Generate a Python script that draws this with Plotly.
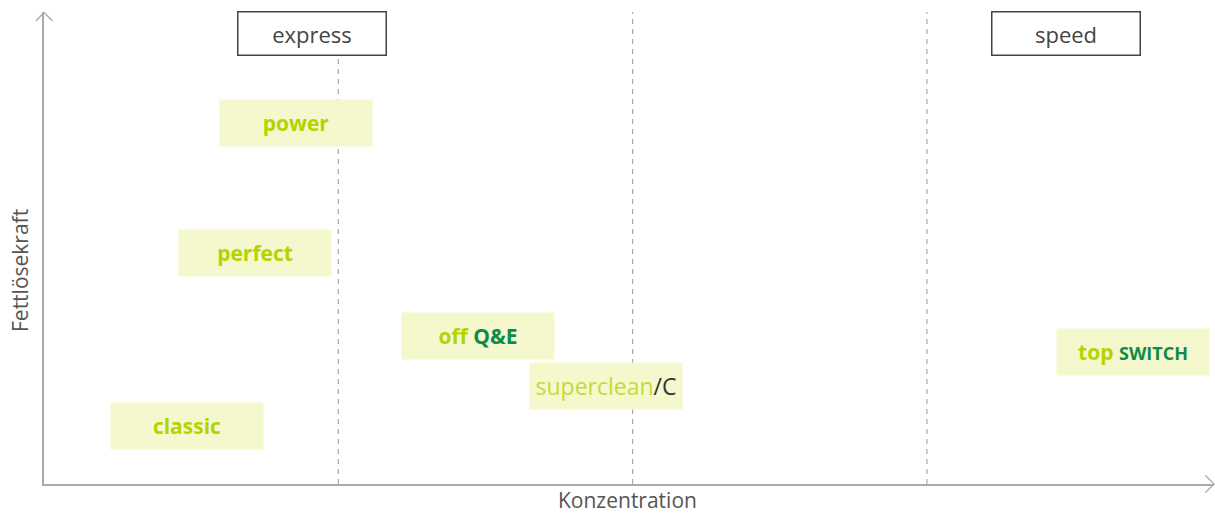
import plotly.graph_objects as go

# ---- data ----
products = ["power", "perfect", "off Q&E", "superclean/C", "top SWITCH", "classic"]
konzentration = [0.856, 0.717, 1.475, 1.911, 3.700, 0.486]
fettloesekraft = [0.764, 0.489, 0.314, 0.208, 0.280, 0.123]
product_labels = [
    "<b><span style='color:#B5D300'>power</span></b>",
    "<b><span style='color:#B5D300'>perfect</span></b>",
    "<b><span style='color:#B5D300'>off</span> <span style='color:#0E8A4A'>Q&amp;E</span></b>",
    "<span style='color:#C3DB3A'>superclean</span><span style='color:#333333'>/C</span>",
    "<b><span style='color:#B5D300'>top</span> <span style='color:#0E8A4A;font-size:18px'>SWITCH</span></b>",
    "<b><span style='color:#B5D300'>classic</span></b>",
]
product_sizes = [21, 21, 21, 23, 21, 21]
categories = ["express", "speed"]
category_x = [0.911, 3.473]
category_y = [0.955, 0.955]
dividers = [1, 2, 3]
x_title = "Konzentration"
y_title = "Fettlösekraft"

FONT = "Open Sans"
W, H = 1215, 513
ML, MR, MT, MB = 44, 1, 12, 29
PW, PH = W - ML - MR, H - MT - MB
BOTTOM = H - MB  # pixel of x axis (484)


def px(xp):
    return (xp - ML) / PW


def py(yp):
    return (BOTTOM - yp) / PH


fig = go.Figure()
fig.add_trace(go.Scatter(x=konzentration, y=fettloesekraft, mode="markers",
                         marker=dict(opacity=0), hoverinfo="skip", showlegend=False))

shapes = []
for d in dividers:
    shapes.append(dict(type="line", xref="x", yref="paper", x0=d, x1=d, y0=0, y1=1,
                       line=dict(color="#AAAAAA", width=1.2, dash="5px,5px"), layer="below"))

# arrow heads
shapes.append(dict(type="path", xref="paper", yref="paper",
                   path=f"M {px(36)},{py(21)} L {px(44)},{py(12.5)} L {px(52.5)},{py(21)}",
                   line=dict(color="#AAAAAA", width=1.4)))
shapes.append(dict(type="path", xref="paper", yref="paper",
                   path=f"M {px(1205.5)},{py(475.5)} L {px(1214)},{py(484)} L {px(1205.5)},{py(492.5)}",
                   line=dict(color="#AAAAAA", width=1.4)))

annotations = []
for xv, yv, lab, fs in zip(konzentration, fettloesekraft, product_labels, product_sizes):
    annotations.append(dict(x=xv, y=yv, xref="x", yref="y", text=lab, showarrow=False,
                            xanchor="center", yanchor="middle", width=152, height=46,
                            bgcolor="#F4F8CC", borderpad=0,
                            font=dict(family=FONT, size=fs)))
for xv, yv, lab in zip(category_x, category_y, categories):
    annotations.append(dict(x=xv, y=yv, xref="x", yref="y", text=lab, showarrow=False,
                            xanchor="center", yanchor="middle", width=147, height=42,
                            bgcolor="#FFFFFF", bordercolor="#444444", borderwidth=1.5,
                            borderpad=0, font=dict(family=FONT, size=22, color="#444444")))

annotations.append(dict(x=px(627), y=py(500), xref="paper", yref="paper", text=x_title,
                        showarrow=False, xanchor="center", yanchor="middle",
                        font=dict(family=FONT, size=21, color="#555555")))
annotations.append(dict(x=px(20), y=py(271), xref="paper", yref="paper", text=y_title,
                        showarrow=False, xanchor="center", yanchor="middle", textangle=-90,
                        font=dict(family=FONT, size=21, color="#555555")))

fig.update_layout(
    width=W, height=H,
    margin=dict(l=ML, r=MR, t=MT, b=MB),
    paper_bgcolor="white", plot_bgcolor="white",
    xaxis=dict(range=[0, PW / 294.3], showgrid=False, zeroline=False, showticklabels=False,
               ticks="", showline=True, linecolor="#AAAAAA", linewidth=1.5, fixedrange=True),
    yaxis=dict(range=[0, 1], showgrid=False, zeroline=False, showticklabels=False,
               ticks="", showline=True, linecolor="#AAAAAA", linewidth=1.5, fixedrange=True),
    shapes=shapes, annotations=annotations, showlegend=False,
)

fig.write_html("out.html", config={"displayModeBar": False},
               post_script="document.body.style.margin='0';document.body.style.overflow='hidden';")
